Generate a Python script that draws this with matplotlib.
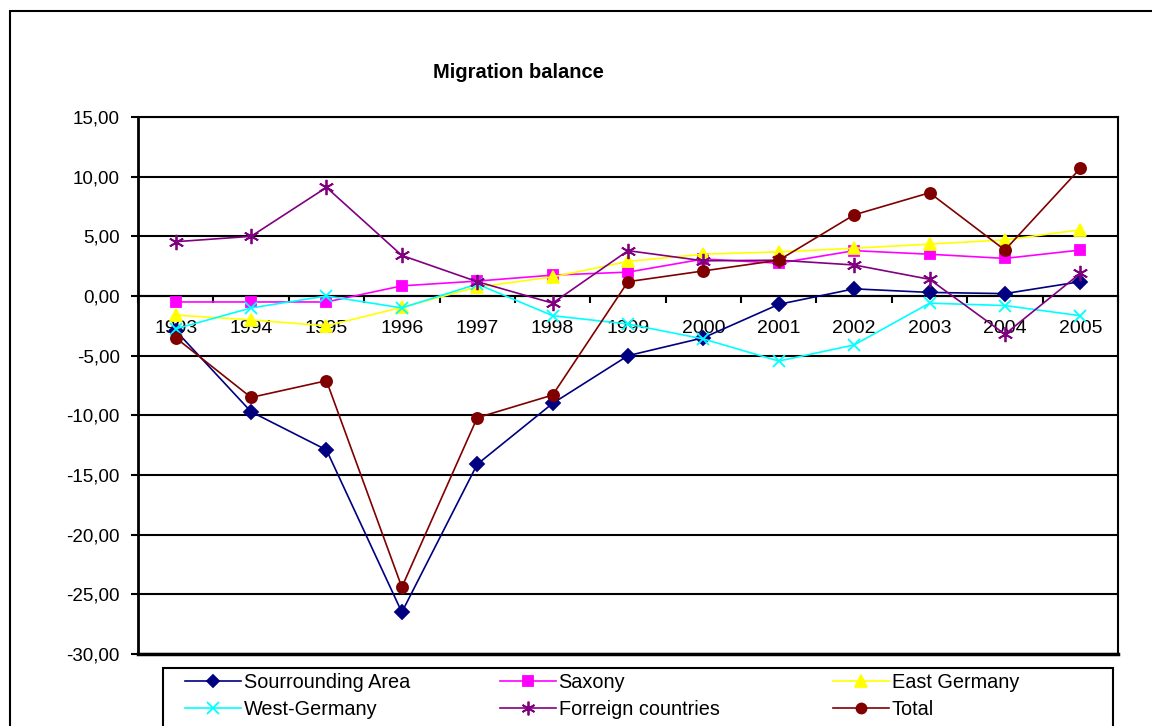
import matplotlib
matplotlib.use("Agg")
import matplotlib.pyplot as plt
from matplotlib.ticker import FuncFormatter, FixedLocator
from matplotlib.patches import Rectangle

plt.rcParams["font.family"] = ["Liberation Sans", "DejaVu Sans"]

years = ["1993", "1994", "1995", "1996", "1997", "1998", "1999",
         "2000", "2001", "2002", "2003", "2004", "2005"]

surrounding = [-2.9, -9.7, -12.9, -26.5, -14.1, -9.0, -5.0, -3.5, -0.7, 0.6, 0.3, 0.2, 1.2]
saxony = [-0.5, -0.5, -0.5, 0.85, 1.25, 1.75, 2.0, 3.1, 2.75, 3.8, 3.5, 3.15, 3.85]
east_germany = [-1.6, -2.0, -2.5, -0.95, 0.75, 1.6, 2.9, 3.5, 3.7, 4.0, 4.35, 4.7, 5.55]
west_germany = [-2.75, -1.0, 0.0, -1.0, 1.0, -1.65, -2.35, -3.6, -5.45, -4.1, -0.6, -0.8, -1.65]
foreign = [4.55, 5.0, 9.1, 3.4, 1.2, -0.6, 3.8, 2.95, 3.0, 2.6, 1.4, -3.2, 1.9]
total = [-3.5, -8.5, -7.1, -24.4, -10.2, -8.3, 1.2, 2.1, 3.0, 6.8, 8.65, 3.85, 10.7]

series = [
    ("Sourrounding Area", surrounding, "#000080", "D", 7),
    ("Saxony", saxony, "#FF00FF", "s", 7.5),
    ("East Germany", east_germany, "#FFFF00", "^", 9),
    ("West-Germany", west_germany, "#00FFFF", "x", 9),
    ("Forreign countries", foreign, "#800080", (6, 2, 0), 11),
    ("Total", total, "#800000", "o", 8),
]

fig = plt.figure(figsize=(11.52, 7.26), dpi=100)
W, H = 1152, 726
ax = fig.add_axes([138 / W, 1 - 654 / H, (1118 - 138) / W, (654 - 117) / H])

x = list(range(len(years)))
for name, vals, col, mk, ms in series:
    ax.plot(x, vals, color=col, lw=1.2, marker=mk, markersize=ms,
            markerfacecolor=col, markeredgecolor=col, markeredgewidth=1.3,
            label=name, zorder=3)

ax.set_xlim(-0.5, len(years) - 0.5)
ax.set_ylim(-30, 15)
ax.set_yticks(range(-30, 16, 5))
ax.yaxis.set_major_formatter(FuncFormatter(lambda v, p: f"{v:.2f}".replace(".", ",")))
ax.grid(axis="y", color="black", lw=1.5, zorder=1)
ax.tick_params(axis="y", direction="out", length=5, width=1.5, pad=8, labelsize=13.5)

# category axis crosses at 0
ax.spines["bottom"].set_position(("data", 0))
ax.spines["bottom"].set_linewidth(1.5)
ax.xaxis.set_major_locator(FixedLocator([i - 0.5 for i in range(len(years) + 1)]))
ax.xaxis.set_minor_locator(FixedLocator(x))
ax.xaxis.set_major_formatter(FuncFormatter(lambda v, p: ""))
ax.xaxis.set_minor_formatter(FuncFormatter(lambda v, p: years[int(round(v))]))
ax.tick_params(axis="x", which="major", direction="out", length=5, width=1.5)
ax.tick_params(axis="x", which="minor", length=0, pad=17, labelsize=14)
# bottom border of the plot area
ax.axhline(-30, color="black", lw=2.5, zorder=2, clip_on=False)
ax.spines["left"].set_linewidth(2)
ax.spines["right"].set_linewidth(1.5)
ax.spines["top"].set_linewidth(1.5)

fig.text(518 / W, 1 - 73 / H, "Migration balance", fontsize=14.5,
         fontweight="bold", ha="center", va="center")

# outer chart frame
fig.patches.append(Rectangle((10 / W, -0.1), 1.2, 1 - 11 / H + 0.1,
                             transform=fig.transFigure, fill=False,
                             edgecolor="black", lw=1.5))

# legend box (runs off the bottom edge like the original)
fig.patches.append(Rectangle((163 / W, -0.1), (1113 - 163) / W, 1 - 668 / H + 0.1,
                             transform=fig.transFigure, fill=True, facecolor="white",
                             edgecolor="black", lw=1.5, zorder=5))

# one two-row legend per column, so the columns sit at even spacing
handles, labels = ax.get_legend_handles_labels()
col_x = [185, 500, 833]
for c, xpx in enumerate(col_x):
    idx = [c, c + 3]
    leg = fig.legend([handles[i] for i in idx], [labels[i] for i in idx],
                     loc="upper left", bbox_to_anchor=(xpx / W, 1 - 673 / H),
                     fontsize=14.3, frameon=False, handlelength=2.8,
                     handletextpad=0.15, borderpad=0, labelspacing=0.42,
                     borderaxespad=0)
    leg.set_zorder(6)
    for h in leg.legend_handles:
        h.set_markersize(h.get_markersize() * 0.9)

fig.savefig("out.png", dpi=100)
